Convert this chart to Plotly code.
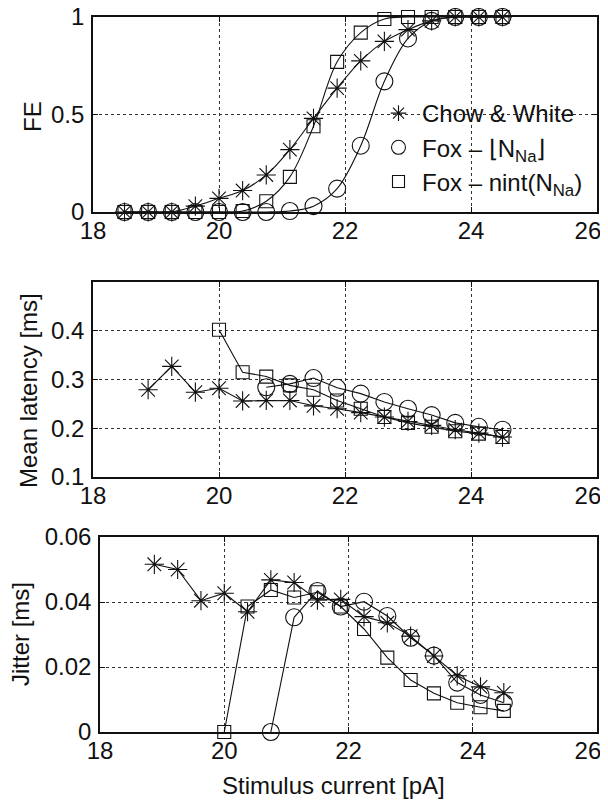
import plotly.graph_objects as go

# ---------------- data ----------------
x_fe = [18.5, 18.875, 19.25, 19.625, 20.0, 20.375, 20.75, 21.125, 21.5,
        21.875, 22.25, 22.625, 23.0, 23.375, 23.75, 24.125, 24.5]
chow_fe = [0, 0, 0, 0.03, 0.07, 0.11, 0.19, 0.32, 0.48, 0.635, 0.775, 0.875,
           0.935, 0.98, 1, 1, 1]
floor_fe = [0, 0, 0, 0, 0, 0, 0, 0.005, 0.03, 0.12, 0.34, 0.67, 0.89, 0.98,
            1, 1, 1]
nint_fe = [0, 0, 0, 0, 0, 0.005, 0.055, 0.18, 0.44, 0.77, 0.92, 0.99, 1, 1,
           1, 1, 1]

x_chow = [18.875, 19.25, 19.625, 20.0, 20.375, 20.75, 21.125, 21.5, 21.875,
          22.25, 22.625, 23.0, 23.375, 23.75, 24.125, 24.5]
x_nint = [20.0, 20.375, 20.75, 21.125, 21.5, 21.875, 22.25, 22.625, 23.0,
          23.375, 23.75, 24.125, 24.5]
x_floor = [20.75, 21.125, 21.5, 21.875, 22.25, 22.625, 23.0, 23.375, 23.75,
           24.125, 24.5]

chow_lat = [0.279, 0.327, 0.274, 0.282, 0.256, 0.257, 0.257, 0.246, 0.240,
            0.232, 0.223, 0.214, 0.206, 0.197, 0.190, 0.182]
nint_lat = [0.402, 0.315, 0.306, 0.288, 0.279, 0.257, 0.240, 0.223, 0.211,
            0.203, 0.194, 0.189, 0.182]
floor_lat = [0.284, 0.291, 0.303, 0.283, 0.271, 0.254, 0.240, 0.227, 0.211,
             0.203, 0.197]

chow_jit = [0.0516, 0.0500, 0.0404, 0.0427, 0.0370, 0.0468, 0.0460, 0.0406,
            0.0408, 0.0355, 0.0336, 0.0295, 0.0234, 0.0173, 0.0139, 0.0121]
nint_jit = [0.0, 0.0386, 0.0437, 0.0414, 0.0430, 0.0386, 0.0317, 0.0229,
            0.0160, 0.0119, 0.0090, 0.0076, 0.0065]
floor_jit = [0.0, 0.0353, 0.0434, 0.0386, 0.0401, 0.0357, 0.0290, 0.0235,
             0.0152, 0.0114, 0.0090]

x_ticks = [18, 20, 22, 24, 26]
# trailing figure/thin space keeps the last label inside the visible page
x_ticktext = ["18", "20", "22", "24", "26\u2007\u2009"]
fe_ticks = [0, 0.5, 1]
fe_ticktext = ["0", "0.5", "1"]
lat_ticks = [0.1, 0.2, 0.3, 0.4]
jit_ticks = [0, 0.02, 0.04, 0.06]
jit_ticktext = ["0", "0.02", "0.04", "0.06"]

names = ["Chow & White", "Fox \u2013 \u230aN<sub>Na</sub>\u230b",
         "Fox \u2013 nint(N<sub>Na</sub>)"]

# ---------------- figure ----------------
# the page body keeps its default 8px margin, so the figure starts at (8, 8)
OFF = 8
W, H = 592, 795
FONT = "Liberation Sans, Arial, Helvetica, sans-serif"
BLACK = "#111111"

sym = {"chow": "asterisk-open", "floor": "circle-open", "nint": "square-open"}
msize = {"chow": 16, "floor": 17, "nint": 13}

fig = go.Figure()


def add(x, y, key, xa, ya, shape="linear"):
    fig.add_trace(go.Scatter(
        x=x, y=y, mode="lines+markers", xaxis=xa, yaxis=ya,
        line=dict(color=BLACK, width=1.1, shape=shape, smoothing=1.0),
        marker=dict(symbol=sym[key], size=msize[key], color=BLACK,
                    line=dict(color=BLACK, width=1.1)),
        cliponaxis=False, showlegend=False, hoverinfo="x+y"))


# top panel (smoothed curves)
add(x_fe, chow_fe, "chow", "x", "y", "spline")
add(x_fe, floor_fe, "floor", "x", "y", "spline")
add(x_fe, nint_fe, "nint", "x", "y", "spline")
# middle panel
add(x_chow, chow_lat, "chow", "x2", "y2")
add(x_floor, floor_lat, "floor", "x2", "y2")
add(x_nint, nint_lat, "nint", "x2", "y2")
# bottom panel
add(x_chow, chow_jit, "chow", "x3", "y3")
add(x_floor, floor_jit, "floor", "x3", "y3")
add(x_nint, nint_jit, "nint", "x3", "y3")

# legend-only entries (marker only, as in the reference)
for key, nm, s in zip(["chow", "floor", "nint"], names, [13, 14, 12]):
    fig.add_trace(go.Scatter(
        x=[None], y=[None], mode="markers", name=nm, xaxis="x", yaxis="y",
        marker=dict(symbol=sym[key], size=s, color=BLACK,
                    line=dict(color=BLACK, width=1.1)),
        showlegend=True))


def px_x(p):
    return (p - OFF) / W


def px_y(p):
    return 1 - (p - OFF) / H


common_axis = dict(
    showline=True, linecolor=BLACK, linewidth=1.6, mirror="allticks",
    ticks="inside", ticklen=5, tickcolor=BLACK, tickwidth=1,
    showgrid=True, gridcolor="#333333", gridwidth=1, griddash="dot",
    zeroline=False, tickfont=dict(family=FONT, size=24, color=BLACK),
    ticklabeloverflow="allow",
)
XSO = -4   # x tick label standoff
YSO = 2    # y tick label standoff

xdom_top = [px_x(93), px_x(597)]
xdom_bot = [px_x(100), px_x(597)]

xcommon = dict(range=[18, 26], tickvals=x_ticks, ticktext=x_ticktext,
               ticklabelstandoff=XSO, **common_axis)

fig.update_layout(
    width=W, height=H,
    margin=dict(l=0, r=0, t=0, b=0, autoexpand=False),
    paper_bgcolor="white", plot_bgcolor="white",
    font=dict(family=FONT, size=24, color=BLACK),
    xaxis=dict(domain=xdom_top, anchor="y", **xcommon),
    yaxis=dict(domain=[px_y(212), px_y(17)], anchor="x", range=[0, 1],
               tickvals=fe_ticks, ticktext=fe_ticktext,
               ticklabelstandoff=YSO, **common_axis),
    xaxis2=dict(domain=xdom_top, anchor="y2", **xcommon),
    yaxis2=dict(domain=[px_y(477), px_y(282)], anchor="x2", range=[0.1, 0.5],
                tickvals=lat_ticks, ticklabelstandoff=YSO, **common_axis),
    xaxis3=dict(domain=xdom_bot, anchor="y3", **xcommon),
    yaxis3=dict(domain=[px_y(732), px_y(537)], anchor="x3", range=[0, 0.06],
                tickvals=jit_ticks, ticktext=jit_ticktext,
                ticklabelstandoff=YSO, **common_axis),
    legend=dict(x=px_x(375), y=px_y(91), xanchor="left", yanchor="top",
                bgcolor="rgba(0,0,0,0)", borderwidth=0,
                font=dict(family=FONT, size=24, color=BLACK),
                itemsizing="trace", tracegroupgap=0, itemwidth=37),
    showlegend=True,
)

annots = [
    dict(text="FE", x=px_x(33), y=px_y(117), textangle=-90),
    dict(text="Mean latency [ms]", x=px_x(28), y=px_y(391), textangle=-90),
    dict(text="Jitter [ms]", x=px_x(20), y=px_y(634), textangle=-90),
    dict(text="Stimulus current [pA]", x=px_x(333), y=px_y(785), textangle=0),
]
for a in annots:
    fig.add_annotation(xref="paper", yref="paper", showarrow=False,
                       xanchor="center", yanchor="middle",
                       font=dict(family=FONT, size=24, color=BLACK), **a)

fig.write_html("out.html", config={"displayModeBar": False})
